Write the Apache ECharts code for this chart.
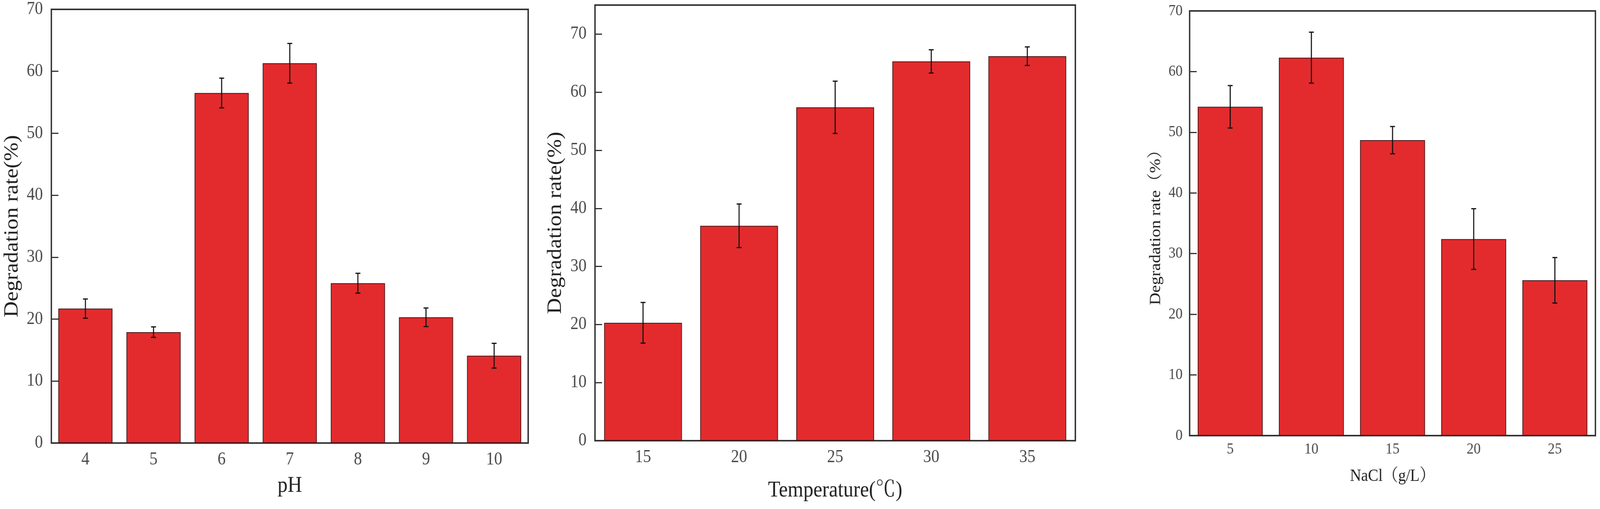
<!DOCTYPE html>
<html>
<head>
<meta charset="utf-8">
<script src="https://cdn.jsdelivr.net/npm/echarts@6/dist/echarts.min.js"></script>
<style>
html,body{margin:0;padding:0;background:#fff;overflow:hidden;}
#c{width:4550px;height:1304px;transform-origin:0 0;}
</style>
</head>
<body>
<div id="c"></div>
<script>
// Panel 1: pH
const phCategories = ['4','5','6','7','8','9','10'];
const phMeans = [21.7, 17.9, 56.5, 61.3, 25.8, 20.3, 14.1];
const phErrors = [1.55, 0.85, 2.4, 3.2, 1.6, 1.5, 2.0];
// Panel 2: Temperature
const tempCategories = ['15','20','25','30','35'];
const tempMeans = [20.3, 37.0, 57.4, 65.3, 66.2];
const tempErrors = [3.5, 3.75, 4.5, 2.0, 1.6];
// Panel 3: NaCl
const naclCategories = ['5','10','15','20','25'];
const naclMeans = [54.2, 62.3, 48.7, 32.4, 25.6];
const naclErrors = [3.5, 4.2, 2.25, 5.0, 3.75];
// Y tick settings
const yMax1 = 70, yMax2 = 75, yMax3 = 70, yInterval = 10;

// fit the 4550x1304 design into whatever viewport the browser gives
(function () {
  const el = document.getElementById('c');
  const sx = window.innerWidth / 4550, sy = window.innerHeight / 1304;
  el.style.transform = 'scale(' + sx + ',' + sy + ')';
})();

const SERIF = '"Liberation Serif", "Times New Roman", "Noto Serif CJK SC", "Noto Sans CJK SC", serif';
const BAR_COLOR = '#e32b2d';
const AXIS_COLOR = '#333333';
const LABEL_COLOR = '#4a4a4a';

function errData(means, errs) {
  return means.map((m, i) => [i, m - errs[i], m + errs[i]]);
}

function errorRender(params, api) {
  const i = api.value(0);
  const lo = api.coord([i, api.value(1)]);
  const hi = api.coord([i, api.value(2)]);
  const cap = 7;
  const style = {stroke: '#111', lineWidth: 3};
  return {
    type: 'group',
    children: [
      {type: 'line', shape: {x1: hi[0], y1: hi[1], x2: lo[0], y2: lo[1]}, style},
      {type: 'line', shape: {x1: hi[0] - cap, y1: hi[1], x2: hi[0] + cap, y2: hi[1]}, style},
      {type: 'line', shape: {x1: lo[0] - cap, y1: lo[1], x2: lo[0] + cap, y2: lo[1]}, style}
    ]
  };
}

const panels = [
  {cats: phCategories, means: phMeans, errs: phErrors, max: yMax1,
   grid: {left: 146, top: 24, width: 1356, height: 1111},
   tickFont: 46, xMargin: 20, yMargin: 24, nameFont: 57,
   xName: 'pH', xNameGap: 82, yName: 'Degradation rate(%)', yNameGap: 82, barW: '79.5%'},
  {cats: tempCategories, means: tempMeans, errs: tempErrors, max: yMax2,
   grid: {left: 1692, top: 13, width: 1366, height: 1116},
   tickFont: 46, xMargin: 20, yMargin: 24, nameFont: 57,
   xName: 'Temperature(℃)', xNameGap: 100, yName: 'Degradation rate(%)', yNameGap: 83, barW: '81%'},
  {cats: naclCategories, means: naclMeans, errs: naclErrors, max: yMax3,
   grid: {left: 3383, top: 28, width: 1154, height: 1088},
   tickFont: 40, xMargin: 15, yMargin: 20, nameFont: 44,
   xName: 'NaCl（g/L）', xNameGap: 82, yName: 'Degradation rate（%）', yNameGap: 74, barW: '80%'}
];

const option = {
  backgroundColor: '#ffffff',
  animation: false,
  grid: [], xAxis: [], yAxis: [], series: []
};

panels.forEach((p, k) => {
  option.grid.push(Object.assign({show: true, borderColor: AXIS_COLOR, borderWidth: 4, containLabel: false}, p.grid));
  option.xAxis.push({
    type: 'category', gridIndex: k, data: p.cats,
    axisLine: {show: true, lineStyle: {color: AXIS_COLOR, width: 4}},
    axisTick: {show: false},
    axisLabel: {color: LABEL_COLOR, fontFamily: SERIF, fontSize: p.tickFont, margin: p.xMargin},
    name: p.xName, nameLocation: 'middle', nameGap: p.xNameGap,
    nameTextStyle: {color: '#222', fontFamily: SERIF, fontSize: p.nameFont}
  });
  option.yAxis.push({
    type: 'value', gridIndex: k, min: 0, max: p.max, interval: yInterval,
    axisLine: {show: true, lineStyle: {color: AXIS_COLOR, width: 4}},
    axisTick: {show: true, inside: true, length: 20, lineStyle: {color: AXIS_COLOR, width: 3}},
    splitLine: {show: false},
    axisLabel: {color: LABEL_COLOR, fontFamily: SERIF, fontSize: p.tickFont, margin: p.yMargin,
      showMaxLabel: p.max % yInterval === 0},
    name: p.yName, nameLocation: 'middle', nameGap: p.yNameGap,
    nameTextStyle: {color: '#222', fontFamily: SERIF, fontSize: p.nameFont}
  });
  option.series.push({
    type: 'bar', xAxisIndex: k, yAxisIndex: k, data: p.means, barWidth: p.barW,
    itemStyle: {color: BAR_COLOR, borderColor: '#4a1414', borderWidth: 2}
  });
  option.series.push({
    type: 'custom', xAxisIndex: k, yAxisIndex: k, data: errData(p.means, p.errs),
    renderItem: errorRender, encode: {x: 0, y: [1, 2]}, z: 5
  });
});

const chart = echarts.init(document.getElementById('c'), null, {renderer: 'canvas', width: 4550, height: 1304});
chart.setOption(option);
</script>
</body>
</html>
